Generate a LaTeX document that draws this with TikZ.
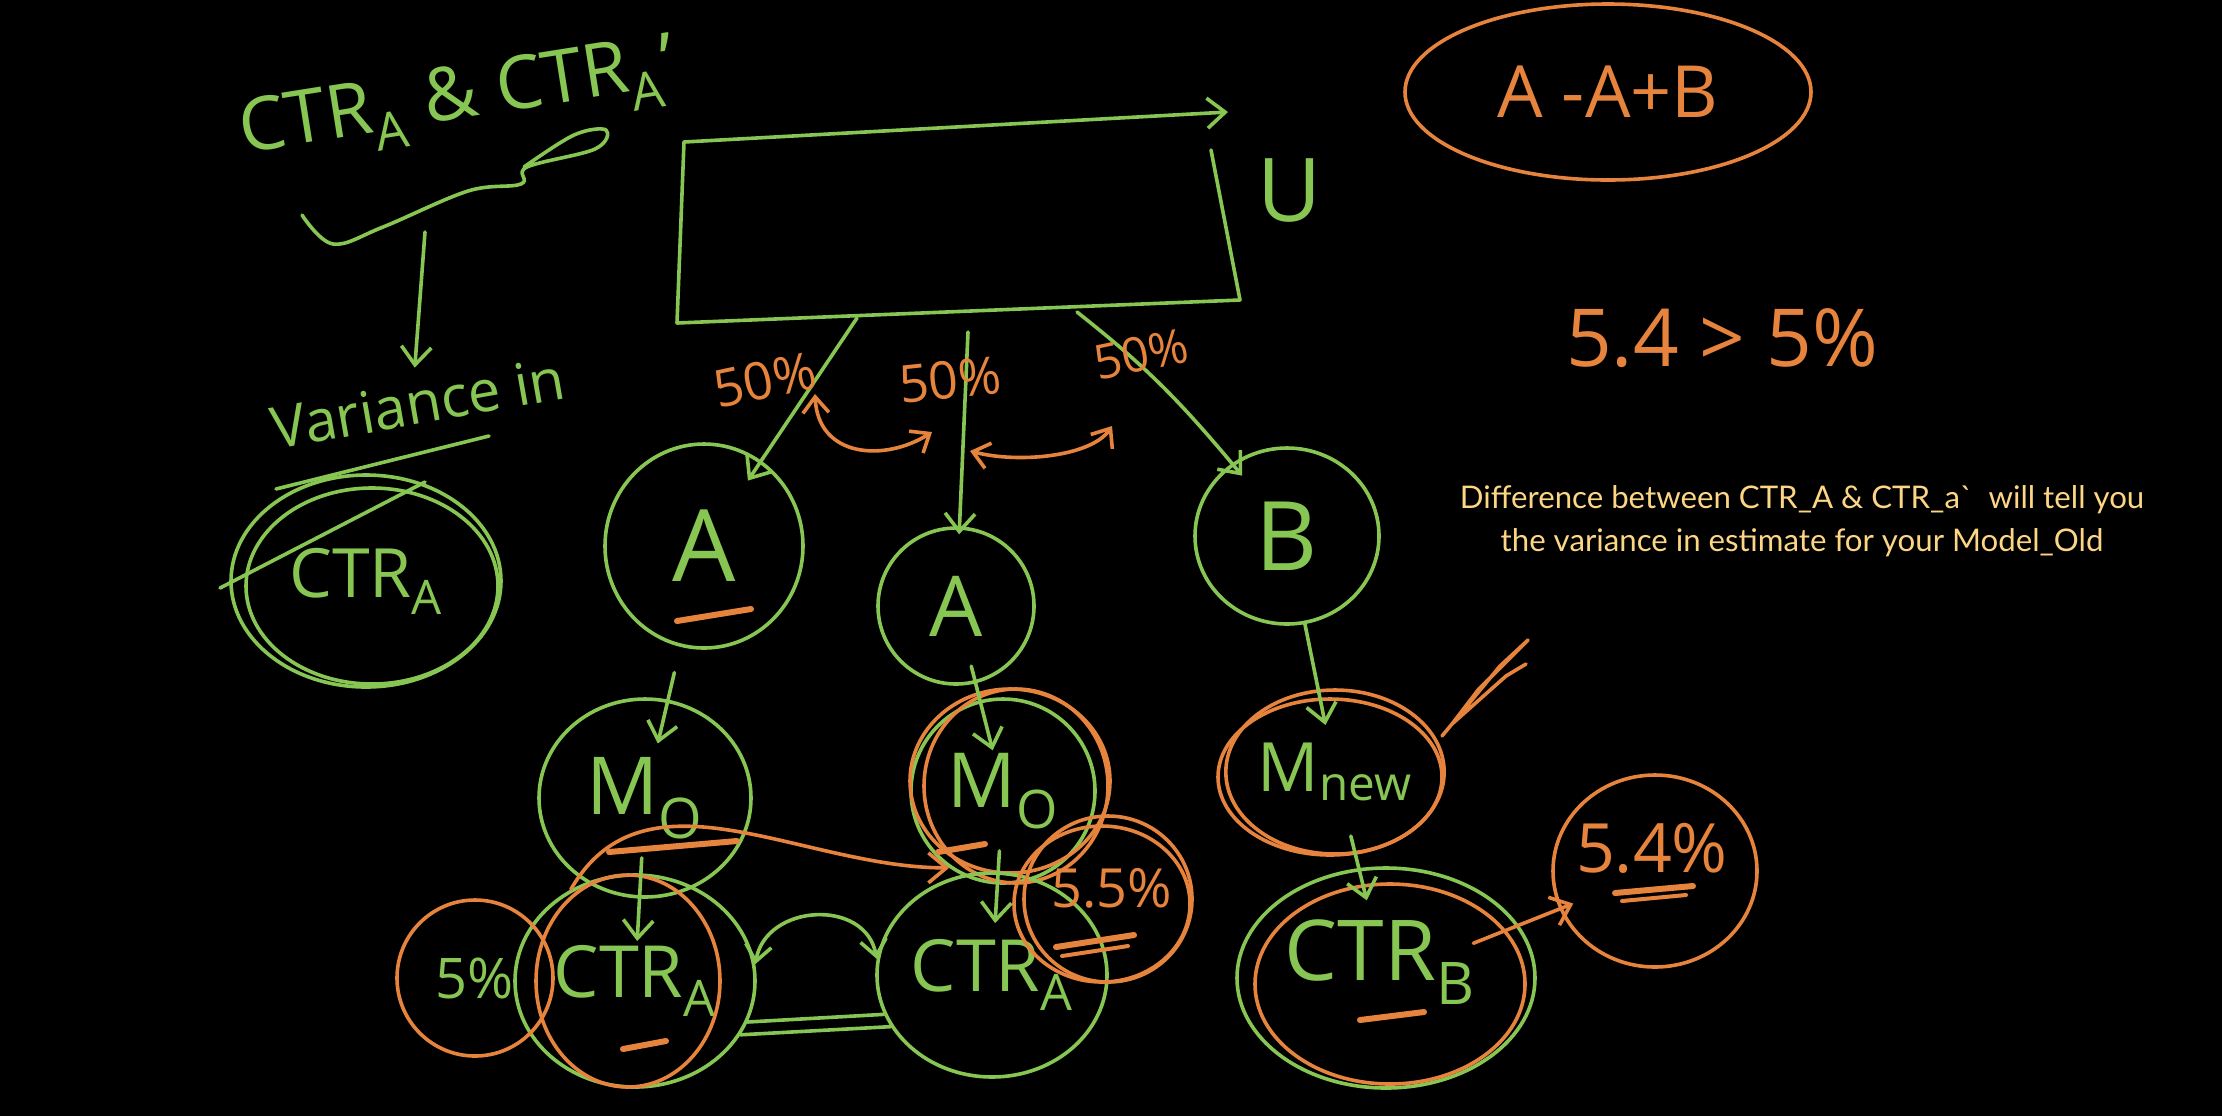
\documentclass[tikz,border=0pt]{standalone}
\usepackage{fontspec}
\setsansfont{Open Sans}
\newfontfamily\notefont{Lato}
\usetikzlibrary{shapes.geometric,arrows.meta}

\definecolor{inkgreen}{RGB}{136,198,84}
\definecolor{inkorange}{RGB}{230,132,62}
\definecolor{notey}{RGB}{252,214,132}
\newcommand{\handsize}[1]{\sffamily\fontsize{#1}{#1}\selectfont}

\tikzset{every picture/.style={line width=0.75pt}}
\tikzset{
  gline/.style={draw=inkgreen,line width=1.8pt,line cap=round,line join=round},
  oline/.style={draw=inkorange,line width=1.8pt,line cap=round,line join=round},
  gring/.style={ellipse,gline,inner sep=0pt,text=inkgreen},
  oring/.style={ellipse,oline,inner sep=0pt,text=inkorange},
  gtext/.style={inner sep=0.75pt,text=inkgreen},
  otext/.style={inner sep=0.75pt,text=inkorange},
  tipend/.style={-{Straight Barb[length=9pt,width=15pt]}},
  tipboth/.style={{Straight Barb[length=8pt,width=13pt]}-{Straight Barb[length=8pt,width=13pt]}},
}

\begin{document}
\begin{tikzpicture}[x=0.5pt,y=0.5pt,yscale=-1,xscale=1]
\fill [black] (0,0) rectangle (2222,1116);

% Text Node
\draw (458,102) node [gtext,rotate=9,font=\handsize{37}] (ttl) {CTR\textsubscript{A} \& CTR\textsubscript{A}'};
%Curve Lines
\draw [gline] plot [smooth,tension=0.6] coordinates {(302,215) (333,244) (383,227) (468,191) (521,184) (527,167) (595,149) (606,130) (574,135) (524,167)};
\coordinate (brc) at (425,232);
% Text Node
\draw (418,403) node [gtext,rotate=10,font=\handsize{29}] (varin) {Variance in};
\draw [gline,tipend,shorten >=6pt] (brc) -- (varin.north) ;

%Shape: Ellipse
\draw (366,581) node [gring,minimum width=135pt,minimum height=106pt,font=\handsize{34}] (ctrold) {CTR\textsubscript{A}};
\draw (372,586) node [gring,minimum width=126pt,minimum height=98pt] (ctroldb) {};
%Straight Lines
\draw [gline] (220,588) -- (425,482) ;
\draw [gline] (276,489) -- (489,436) ;

%Straight Lines: population box
\coordinate (boxTL) at (684,142);
\coordinate (boxTip) at (1228,112);
\coordinate (boxTR) at (1211,150);
\coordinate (boxBR) at (1240,300);
\coordinate (boxBL) at (677,323);
\draw [gline,tipend] (boxTL) -- (boxTip) ;
\draw [gline] (boxTR) -- (boxBR) -- (boxBL) -- (boxTL) ;
% Text Node
\draw (1290,191) node [gtext,font=\handsize{44}] (pop) {U};

\coordinate (brL) at (857,318);
\coordinate (brM) at (968,332);
\coordinate (brR) at (1077,312);

%Shape: Ellipse
\draw (704,546) node [gring,minimum width=99pt,minimum height=102pt,font=\handsize{50}] (A1) {A};
\draw (956,606) node [gring,minimum width=78pt,minimum height=78pt,font=\handsize{42}] (A2) {A};
\draw (1287,536) node [gring,minimum width=92pt,minimum height=88pt,font=\handsize{48}] (B) {B};

%Straight Lines
\draw [gline,tipend,shorten >=-12pt] (brL) -- (A1) ;
\draw [gline,tipend,shorten >=-4pt] (brM) -- (A2) ;
\draw [gline,tipend,shorten >=-8pt] (brR) to [bend right=6] (B) ;

% Text Node
\draw (765,380) node [otext,rotate=12,font=\handsize{26}] (pctL) {50\%};
\draw (950,380) node [otext,rotate=6,font=\handsize{26}] (pctM) {50\%};
\draw (1141,354) node [otext,rotate=12,font=\handsize{24}] (pctR) {50\%};

%Curve Lines
\coordinate (swL1) at (815,394);
\coordinate (swL2) at (932,432);
\coordinate (swR1) at (970,451);
\coordinate (swR2) at (1112,426);
\draw [oline,tipboth] (swL1) .. controls (818,458) and (885,462) .. (swL2) ;
\draw [oline,tipboth] (swR1) .. controls (1020,464) and (1092,456) .. (swR2) ;

%Shape: Ellipse
\draw (645,798) node [gring,minimum width=106pt,minimum height=99pt,font=\handsize{40}] (MO1) {M\textsubscript{O}};
\draw (1003,791) node [gring,minimum width=92pt,minimum height=92pt,font=\handsize{38}] (MO2) {M\textsubscript{O}};
\draw (1010,781) node [oring,minimum width=100pt,minimum height=92pt] (MO2a) {};
\draw (1016,786) node [oring,minimum width=92pt,minimum height=97pt] (MO2b) {};
\draw (1335,772) node [oring,minimum width=106pt,minimum height=82pt,text=inkgreen,font=\handsize{34}] (Mnew) {M\textsubscript{new}};
\draw (1330,777) node [oring,minimum width=112pt,minimum height=78pt] (Mnewb) {};

\draw (635,981) node [gring,minimum width=120pt,minimum height=106pt,font=\handsize{36}] (CA1) {CTR\textsubscript{A}};
\draw (628,981) node [oring,minimum width=92pt,minimum height=106pt] (CA1b) {};
\draw (992,975) node [gring,minimum width=96pt,minimum height=102pt,font=\handsize{36}] (CA2) {CTR\textsubscript{A}};
\draw (1386,978) node [gring,minimum width=149pt,minimum height=110pt] (CB) {};
\draw (1390,984) node [oring,minimum width=135pt,minimum height=100pt] (CBb) {};
% Text Node
\draw (1380,962) node [gtext,font=\handsize{42}] (CBt) {CTR\textsubscript{B}};

\draw (475,978) node [oring,minimum width=78pt,minimum height=78pt,text=inkgreen,font=\handsize{28}] (P5) {5\%};
\draw (1102,904) node [oring,minimum width=88pt,minimum height=78pt] (P55) {};
\draw (1108,899) node [oring,minimum width=84pt,minimum height=83pt] (P55b) {};
\draw (1112,888) node [otext,font=\handsize{27}] (P55t) {5.5\%};
\draw (1655,871) node [oring,minimum width=102pt,minimum height=96pt] (P54) {};
\draw (1652,848) node [otext,font=\handsize{34}] (P54t) {5.4\%};

%Straight Lines
\draw [gline,tipend,shorten <=65pt,shorten >=28pt] (A1.center) -- (MO1.center) ;
\draw [gline,tipend,shorten <=30pt,shorten >=20pt] (MO1.center) -- (CA1.center) ;
\draw [gline,tipend,shorten <=31pt,shorten >=21pt] (A2.center) -- (MO2.center) ;
\draw [gline,tipend,shorten <=30pt,shorten >=26pt] (MO2.center) -- (CA2.center) ;
\draw [gline,tipend,shorten <=44pt,shorten >=24pt] (B.center) -- (Mnew.center) ;
\draw [gline,tipend,shorten <=33pt,shorten >=40pt] (Mnew.center) -- (CB.center) ;

%Curve Lines
\draw [gline,tipboth] (CA1.8) to [out=-80,in=-100,looseness=1.3] (CA2.172) ;
\draw [gline] (CA1.-20) -- (CA2.200) ;
\draw [gline] (CA1.-27) -- (CA2.207) ;
\draw [oline,tipend] (CA1.125) to [out=-60,in=180] (MO2.235) ;
\draw [oline,tipend,shorten <=47pt,shorten >=44pt] (CB.center) -- (P54.center) ;

%Straight Lines: marker strokes
\draw [oline] (1442,736) -- (1500,666) -- (1528,640) -- (1478,690) -- (1452,724) -- (1506,676) -- (1526,664) ;
\draw [oline,line width=3pt] (677,621) -- (751,609) ;
\draw [oline,line width=3pt] (609,852) -- (737,841) ;
\draw [oline,line width=3pt] (938,852) -- (985,844) ;
\draw [oline,line width=3pt] (623,1049) -- (666,1041) ;
\draw [oline,line width=3pt] (1056,947) -- (1134,935) ;
\draw [oline,line width=2pt] (1062,956) -- (1128,946) ;
\draw [oline,line width=3pt] (1360,1020) -- (1424,1012) ;
\draw [oline,line width=3pt] (1615,893) -- (1693,886) ;
\draw [oline,line width=2pt] (1622,901) -- (1686,895) ;

%Shape: Ellipse
\draw (1608,92) node [oring,minimum width=203pt,minimum height=88pt,font=\handsize{36}] (aab) {A -A+B};
% Text Node
\draw (1722,338) node [otext,font=\handsize{40}] (cmp) {5.4 > 5\%};
% Text Node
\draw (1802,521) node [inner sep=0.75pt,text=notey,align=center,font=\notefont\fontsize{15.6}{21.5}\selectfont] (diffnote) {Difference between CTR\_A \& CTR\_a\textasciigrave\ \ will tell you\\the variance in estimate for your Model\_Old};

\end{tikzpicture}
\end{document}
